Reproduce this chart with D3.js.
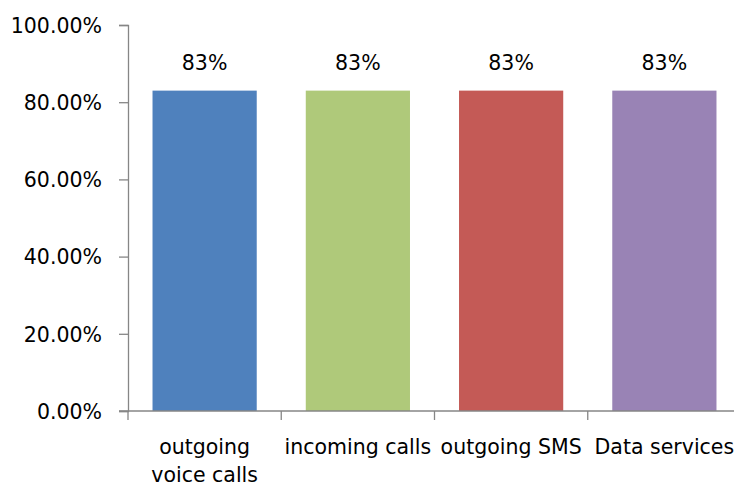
<!DOCTYPE html>
<html><head><meta charset="utf-8">
<script src="https://cdn.jsdelivr.net/npm/d3@7"></script>
<style>body{margin:0;background:#fff}svg{display:block}text{font-family:"DejaVu Sans",sans-serif;fill:#000}</style>
</head><body><svg id="c" width="734" height="488"></svg>
<script>
const categories = [["outgoing","voice calls"],["incoming calls"],["outgoing SMS"],["Data services"]];
const values = [0.83, 0.83, 0.83, 0.83];
const valueLabels = ["83%","83%","83%","83%"];
const yTicks = [0, 0.2, 0.4, 0.6, 0.8, 1.0];
const colors = ["#4F81BD","#AFC97A","#C45A56","#9983B5"];

const svg = d3.select("#c");
const x0 = 128, x1 = 741, yTop = 25, yBot = 411;
const x = d3.scaleBand().domain(d3.range(categories.length)).range([x0, x1]).paddingInner(0.32).paddingOuter(0.16);
const y = d3.scaleLinear().domain([0, 1]).range([yBot, yTop]);
const fs = "20.5px";

// bars
svg.selectAll("rect.bar").data(values).join("rect")
  .attr("x", (d,i)=>x(i)).attr("width", x.bandwidth())
  .attr("y", d=>y(d)).attr("height", d=>yBot - y(d))
  .attr("fill", (d,i)=>colors[i]);

// y axis
const yAxis = d3.axisLeft(y).tickValues(yTicks).tickFormat(d=>(d*100).toFixed(2)+"%").tickSize(9).tickPadding(17);
const gy = svg.append("g").attr("transform",`translate(${x0},0)`).call(yAxis);
gy.select(".domain").attr("stroke","#868686").attr("stroke-width",1.3);
gy.selectAll(".tick line").attr("stroke","#868686").attr("stroke-width",1.3);
gy.selectAll(".tick text").style("font-size",fs).attr("fill","#000").attr("dy","0.36em");

// x axis line
svg.append("line").attr("x1",x0-9).attr("x2",x1).attr("y1",yBot).attr("y2",yBot).attr("stroke","#868686").attr("stroke-width",1.3);
const step = x.step();
const bounds = d3.range(categories.length+1).map(i=>x0 + i*step);
svg.selectAll("line.ct").data(bounds).join("line")
  .attr("x1",d=>d).attr("x2",d=>d).attr("y1",yBot).attr("y2",yBot+9)
  .attr("stroke","#868686").attr("stroke-width",1.3);

// category labels
categories.forEach((lines,i)=>{
  const cx = x(i) + x.bandwidth()/2;
  const t = svg.append("text").attr("text-anchor","middle").style("font-size",fs);
  lines.forEach((ln,j)=>{
    t.append("tspan").attr("x",cx).attr("y",454 + j*28).text(ln);
  });
});

// value labels
svg.selectAll("text.vl").data(values).join("text")
  .attr("x",(d,i)=>x(i)+x.bandwidth()/2).attr("y",d=>y(d)-21)
  .attr("text-anchor","middle").style("font-size",fs)
  .text((d,i)=>valueLabels[i]);
</script></body></html>
